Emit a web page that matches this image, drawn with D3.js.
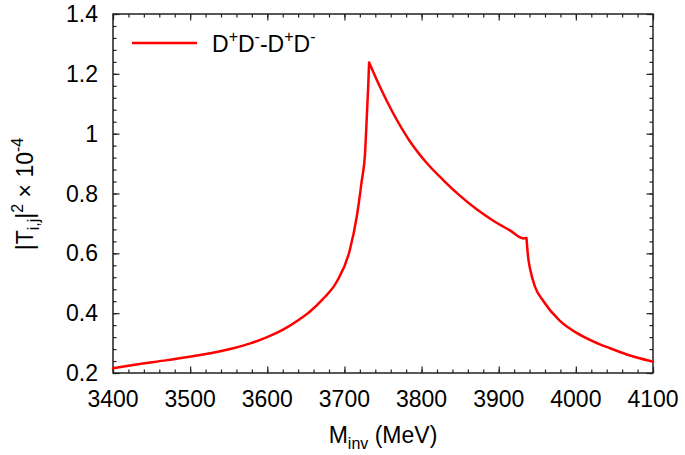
<!DOCTYPE html>
<html>
<head>
<meta charset="utf-8">
<script src="https://cdn.jsdelivr.net/npm/d3@7"></script>
<style>
  body { margin: 0; background: #fff; }
  svg text { font-family: "Liberation Sans", Arial, sans-serif; fill: #000; }
</style>
</head>
<body>
<div id="chart"></div>
<script>
// invariant mass (MeV) and |T|^2 x 1e-4
const massValues = [3400, 3426, 3470, 3513, 3556, 3578, 3599, 3621, 3642, 3655,
  3672, 3690, 3707, 3716, 3722, 3727, 3729, 3731, 3732,
  3746, 3763, 3785, 3807, 3828, 3850, 3871, 3893, 3915, 3932, 3936,
  3938, 3941, 3947, 3958, 3979, 4001, 4023, 4044, 4066, 4100];
const ampValues = [0.216, 0.227, 0.243, 0.260, 0.283, 0.299, 0.319, 0.346, 0.380, 0.405,
  0.447, 0.505, 0.611, 0.723, 0.834, 0.946, 1.057, 1.169, 1.238,
  1.157, 1.069, 0.974, 0.901, 0.845, 0.792, 0.748, 0.709, 0.676, 0.650, 0.651,
  0.590, 0.544, 0.489, 0.440, 0.375, 0.334, 0.305, 0.283, 0.262, 0.238];
// thresholds where the curve has cusps
const cuspMasses = [3732, 3936];
const xTicks = [3400, 3500, 3600, 3700, 3800, 3900, 4000, 4100];
const yTicks = [0.2, 0.4, 0.6, 0.8, 1, 1.2, 1.4];

const W = 685, H = 455;
const margin = {top: 14, right: 32, bottom: 82, left: 113};
const width = W - margin.left - margin.right;
const height = H - margin.top - margin.bottom;
const fs = 23, fsSmall = 16;

const svg = d3.select("#chart").append("svg")
  .attr("width", W)
  .attr("height", H);

const g = svg.append("g")
  .attr("transform", "translate(" + margin.left + "," + margin.top + ")");

const x = d3.scaleLinear().domain([3400, 4100]).range([0, width]);
const y = d3.scaleLinear().domain([0.2, 1.4]).range([height, 0]);

const xMinor = d3.range(3400, 4100.1, 20);
const yMinor = d3.range(0.2, 1.401, 0.04);

// inward ticks on all four sides
function tickAxis(axisFn, scale, vals, len, tr) {
  const a = g.append("g").attr("transform", tr)
    .call(axisFn(scale).tickValues(vals).tickSize(-len).tickFormat(""));
  a.select(".domain").remove();
  a.selectAll("line").attr("stroke", "#222").attr("stroke-width", 1.2);
  return a;
}
tickAxis(d3.axisBottom, x, xMinor, 3.5, "translate(0," + height + ")");
tickAxis(d3.axisBottom, x, xTicks, 6.5, "translate(0," + height + ")");
tickAxis(d3.axisTop, x, xMinor, 3.5, "translate(0,0)");
tickAxis(d3.axisTop, x, xTicks, 6.5, "translate(0,0)");
tickAxis(d3.axisLeft, y, yMinor, 3.5, "translate(0,0)");
tickAxis(d3.axisLeft, y, yTicks, 6.5, "translate(0,0)");
tickAxis(d3.axisRight, y, yMinor, 3.5, "translate(" + width + ",0)");
tickAxis(d3.axisRight, y, yTicks, 6.5, "translate(" + width + ",0)");

g.append("rect")
  .attr("width", width).attr("height", height)
  .attr("fill", "none").attr("stroke", "#222").attr("stroke-width", 1.5);

// tick labels
g.append("g").selectAll("text").data(xTicks).join("text")
  .attr("x", d => x(d))
  .attr("y", height + 34)
  .attr("text-anchor", "middle")
  .attr("font-size", fs)
  .text(d => d);

g.append("g").selectAll("text").data(yTicks).join("text")
  .attr("x", -15)
  .attr("y", d => y(d) + 8)
  .attr("text-anchor", "end")
  .attr("font-size", fs)
  .text(d => d3.format("~g")(d));

// axis titles
const xt = svg.append("text")
  .attr("x", margin.left + width / 2)
  .attr("y", 443)
  .attr("text-anchor", "middle")
  .attr("font-size", fs);
xt.append("tspan").text("M");
xt.append("tspan").attr("font-size", fsSmall).attr("dy", 6).text("inv");
xt.append("tspan").attr("dy", -6).text(" (MeV)");

const yt = svg.append("text")
  .attr("transform", "translate(33,194) rotate(-90)")
  .attr("text-anchor", "middle")
  .attr("font-size", fs);
yt.append("tspan").text("|T");
yt.append("tspan").attr("font-size", fsSmall).attr("dy", 6).text("i,j");
yt.append("tspan").attr("dy", -6).text("|");
yt.append("tspan").attr("font-size", fsSmall).attr("dy", -10).text("2");
yt.append("tspan").attr("dy", 10).text(" \u00d7 10");
yt.append("tspan").attr("font-size", fsSmall).attr("dy", -10).text("-4");

// curve: smooth between cusps, sharp at the thresholds
const pts = massValues.map((m, i) => ({m: m, v: ampValues[i]}));
const bounds = [massValues[0]].concat(cuspMasses, [massValues[massValues.length - 1]]);
const line = d3.line().x(d => x(d.m)).y(d => y(d.v)).curve(d3.curveMonotoneX);
let dStr = "";
for (let i = 0; i < bounds.length - 1; i++) {
  const seg = pts.filter(p => p.m >= bounds[i] && p.m <= bounds[i + 1]);
  dStr += line(seg);
}
g.append("path")
  .attr("fill", "none")
  .attr("stroke", "#ff0000")
  .attr("stroke-width", 2.5)
  .attr("stroke-linejoin", "round")
  .attr("stroke-linecap", "round")
  .attr("d", dStr);

// legend
const leg = g.append("g").attr("transform", "translate(19,29)");
leg.append("line")
  .attr("x1", 0).attr("x2", 65)
  .attr("stroke", "#ff0000").attr("stroke-width", 2.5);
const lt = leg.append("text")
  .attr("x", 80).attr("y", 9)
  .attr("font-size", fs);
lt.append("tspan").text("D");
lt.append("tspan").attr("font-size", fsSmall).attr("dy", -10).text("+");
lt.append("tspan").attr("dy", 10).text("D");
lt.append("tspan").attr("font-size", fsSmall).attr("dy", -10).text("-");
lt.append("tspan").attr("dy", 10).text("-D");
lt.append("tspan").attr("font-size", fsSmall).attr("dy", -10).text("+");
lt.append("tspan").attr("dy", 10).text("D");
lt.append("tspan").attr("font-size", fsSmall).attr("dy", -10).text("-");
</script>
</body>
</html>
